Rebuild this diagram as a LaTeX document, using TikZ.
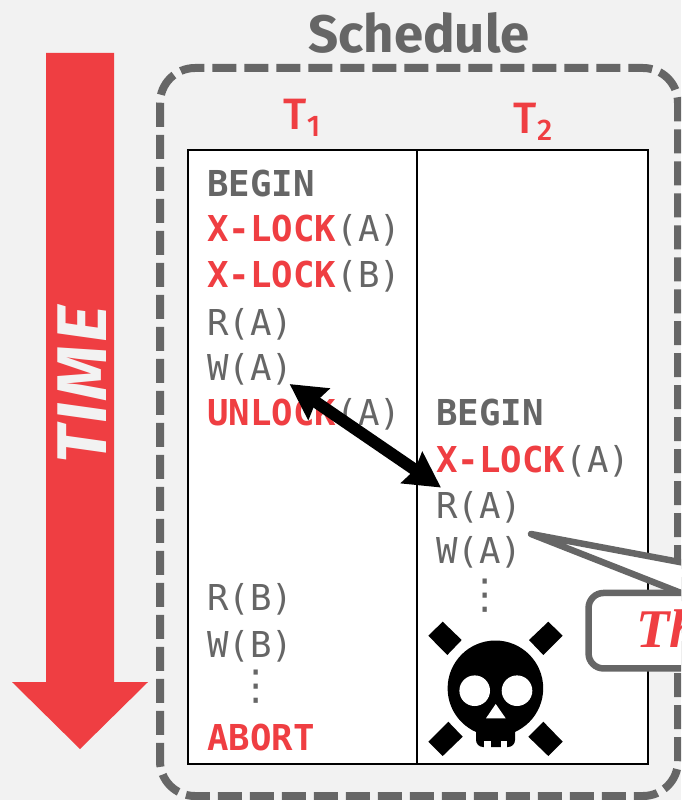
\documentclass[tikz,border=0pt]{standalone}
\usepackage{fontspec}
\setmainfont{Fira Sans}
\setmonofont{DejaVu Sans Mono}
\newfontfamily\calloutfont{Liberation Serif}
\newfontfamily\symbolfont{DejaVu Sans}
\newfontfamily\labelfont{Fira Sans Medium}
\usepackage{xcolor}
\usetikzlibrary{arrows.meta,positioning,calc}
\definecolor{slide}{HTML}{F2F2F2}
\definecolor{alert}{HTML}{EF3E42}
\definecolor{ink}{HTML}{666666}
\newcommand{\txn}[1]{T\raisebox{-0.32ex}{\fontsize{17}{17}\selectfont #1}}

\begin{document}
\begin{tikzpicture}[
  x=0.02cm,y=-0.02cm,
  op/.style={anchor=base west,inner sep=0pt,text=ink,font=\ttfamily\fontsize{20.3}{24}\selectfont},
  opb/.style={op,font=\ttfamily\bfseries\fontsize{20.3}{24}\selectfont},
  lock/.style={opb,text=alert},
  more/.style={inner sep=0pt,text=ink,font=\symbolfont\fontsize{23.5}{28}\selectfont},
  txnlabel/.style={inner sep=0pt,text=alert,font=\labelfont\fontsize{25}{30}\selectfont},
  deadlock/.style={{Stealth[length=20pt,width=21pt,inset=2pt]}-{Stealth[length=20pt,width=21pt,inset=2pt]},line width=6.8pt},
  bone/.style={fill=black}
]
\useasboundingbox (0,0) rectangle (681,800);
\clip (0,0) rectangle (681,800);
\fill[slide] (0,0) rectangle (681,800);

% time arrow
\fill[alert] (46,53) -- (114,53) -- (114,682) -- (148,682) -- (80,749) -- (12,682) -- (46,682) -- cycle;
\node[rotate=90,inner sep=0pt,text=slide,font=\addfontfeature{LetterSpace=4}\bfseries\itshape\fontsize{40}{48}\selectfont] (time) at (82,385) {TIME};

% schedule
\node[inner sep=0pt,text=ink,font=\bfseries\fontsize{30}{36}\selectfont] (title) at (419,33) {Schedule};
\draw[ink,line width=4.55pt,rounded corners=0.7cm,dash pattern=on 13.66pt off 4.55pt] (160,68) rectangle (678,796);
\draw[fill=white,line width=1.14pt] (188,150) rectangle (648,764);
\draw[line width=1.14pt] (417,150) -- (417,764);
\node[txnlabel] (t1) at (302,118) {\txn{1}};
\node[txnlabel] (t2) at (533,122) {\txn{2}};

% first txn
\node[opb]  (begina) at (207,197) {BEGIN};
\node[lock] (xa)     at (207,242) {X-LOCK};
\node[op]   at (xa.base east) [anchor=base west] {(A)};
\node[lock] (xb)     at (207,287) {X-LOCK};
\node[op]   at (xb.base east) [anchor=base west] {(B)};
\node[op]   (ra)     at (207,335) {R(A)};
\node[op]   (wa)     at (207,380) {W(A)};
\node[lock] (ua)     at (207,425) {UNLOCK};
\node[op]   at (ua.base east) [anchor=base west] {(A)};
\node[op]   (rb)     at (207,610) {R(B)};
\node[op]   (wb)     at (207,657) {W(B)};
\node[more] (dotsa)  at (256,687) {⋮};
\node[lock] (aborta) at (207,750) {ABORT};

% second txn
\node[opb]  (beginb) at (436,425) {BEGIN};
\node[lock] (xc)     at (436,472) {X-LOCK};
\node[op]   at (xc.base east) [anchor=base west] {(A)};
\node[op]   (rc)     at (436,518) {R(A)};
\node[op]   (wc)     at (436,563) {W(A)};
\node[more] (dotsb)  at (485,596) {⋮};

\draw[deadlock] ([shift={(-4,-1)}]wa.south east) -- ([shift={(5,-3)}]rc.north west);

% skull
\fill[bone] (442.7,621.7) -- (461.7,640) -- (447.3,655) -- (428.3,635.7) -- cycle;
\fill[bone] (548.3,621.7) -- (562.7,635.7) -- (543.3,655) -- (529,640) -- cycle;
\fill[bone] (448.3,721.7) -- (462.7,736.7) -- (442.7,756) -- (428.3,741.7) -- cycle;
\fill[bone] (543.3,721.7) -- (562.7,741.7) -- (548.3,756) -- (528.3,736.7) -- cycle;
\fill[bone] (495.4,688.3) circle (47.8);
\fill[bone,rounded corners=4pt] (476,715) rectangle (515,747);
\fill[white] (474.7,690.7) circle (15.3);
\fill[white] (517,690.7) circle (15.3);
\fill[white] (495.7,704) -- (505.7,718.3) -- (486,718.3) -- cycle;
\fill[white] (484,741) rectangle (490.7,749);
\fill[white] (500.7,741) rectangle (506.7,749);

% callout
\coordinate (tip) at (531,534);
\draw[ink,fill=white,line width=3.7pt,line join=round] (tip) -- (730,571.5) -- (730,593) -- (681,593) -- cycle;
\node[draw=ink,fill=white,line width=3.7pt,rounded corners=0.3cm,anchor=west,minimum width=4cm,minimum height=1.51cm] (callout) at (585.3,630.7) {};
\node[anchor=base west,inner sep=0pt,text=alert,font=\calloutfont\bfseries\itshape\fontsize{31}{36}\selectfont] (calltext) at (636,647) {Th};
\end{tikzpicture}
\end{document}
